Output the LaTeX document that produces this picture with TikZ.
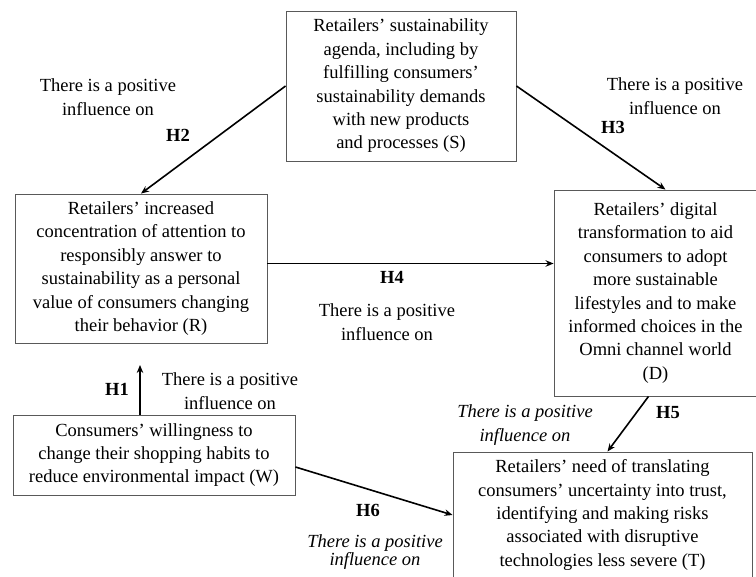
\documentclass[tikz,border=0pt]{standalone}
\usepackage{fontspec}
\setmainfont{Liberation Serif}
\usetikzlibrary{arrows.meta}

\begin{document}
\begin{tikzpicture}[x=1pt,y=-1pt,
	box/.style={draw=black!65,line width=0.9pt,align=center,inner sep=0pt},
	lbl/.style={align=center,inner sep=0pt},
	hyp/.style={inner sep=0pt,font=\fontsize{18.5}{23.4}\selectfont\bfseries},
	arr/.style={-{Stealth[length=8pt,width=6.5pt]},line width=1.6pt,black}]
			\tikzset{every node/.append style={font=\fontsize{18.5}{23.4}\selectfont}}
			\useasboundingbox (0,0) rectangle (756,577);
			\node [box,minimum width=230pt,minimum height=150pt] (S) at (401,86) {Retailers' sustainability\\agenda, including by\\fulfilling consumers'\\sustainability demands\\with new products\\and processes (S)};
			\node [box,minimum width=252pt,minimum height=149pt] (R) at (141,268.5) {Retailers' increased\\concentration of attention to\\responsibly answer to\\sustainability as a personal\\value of consumers changing\\their behavior (R)};
			\node [box,minimum width=203pt,minimum height=206pt] (D) at (655.5,293) {Retailers' digital\\transformation to aid\\consumers to adopt\\more sustainable\\lifestyles and to make\\informed choices in the\\Omni channel world\\(D)};
			\node [box,minimum width=282pt,minimum height=80pt] (W) at (154,455) {Consumers' willingness to\\change their shopping habits to\\reduce environmental impact (W)};
			\node [box,minimum width=299pt,minimum height=126pt] (T) at (602.5,515) {Retailers' need of translating\\consumers' uncertainty into trust,\\identifying and making risks\\associated with disruptive\\technologies less severe (T)};
			\coordinate (h1end) at (140,365);
			\draw [arr] (S.west) -- (R.north);
			\draw [arr] (S.east) -- ([xshift=10pt]D.north);
			\draw [arr] ([yshift=5pt]R.east) -- ([yshift=5pt]R.east -| D.west);
			\draw [arr] (W.north -| h1end) -- (h1end);
			\draw [arr] ([xshift=-7pt]D.south) -- ([xshift=5pt]T.north);
			\draw [arr] ([yshift=-12pt]W.east) -- (T.west);
			\node [hyp] (h2) at (178,135) {H2};
			\node [lbl] (l2) at (108,97) {There is a positive\\influence on};
			\node [hyp] (h3) at (613,127) {H3};
			\node [lbl] (l3) at (675,96) {There is a positive\\influence on};
			\node [hyp] (h4) at (392,277) {H4};
			\node [lbl] (l4) at (387,322) {There is a positive\\influence on};
			\node [hyp] (h1) at (117,389) {H1};
			\node [lbl] (l1) at (230,391) {There is a positive\\influence on};
			\node [hyp] (h5) at (668,413) {H5};
			\node [lbl,font=\fontsize{18.5}{23.4}\selectfont\itshape] (l5) at (525,425) {There is a positive\\influence on};
			\node [hyp] (h6) at (368,510) {H6};
			\node [lbl,font=\fontsize{18.5}{18}\selectfont\itshape] (l6) at (375,552) {There is a positive\\influence on};
		\end{tikzpicture}
\end{document}
